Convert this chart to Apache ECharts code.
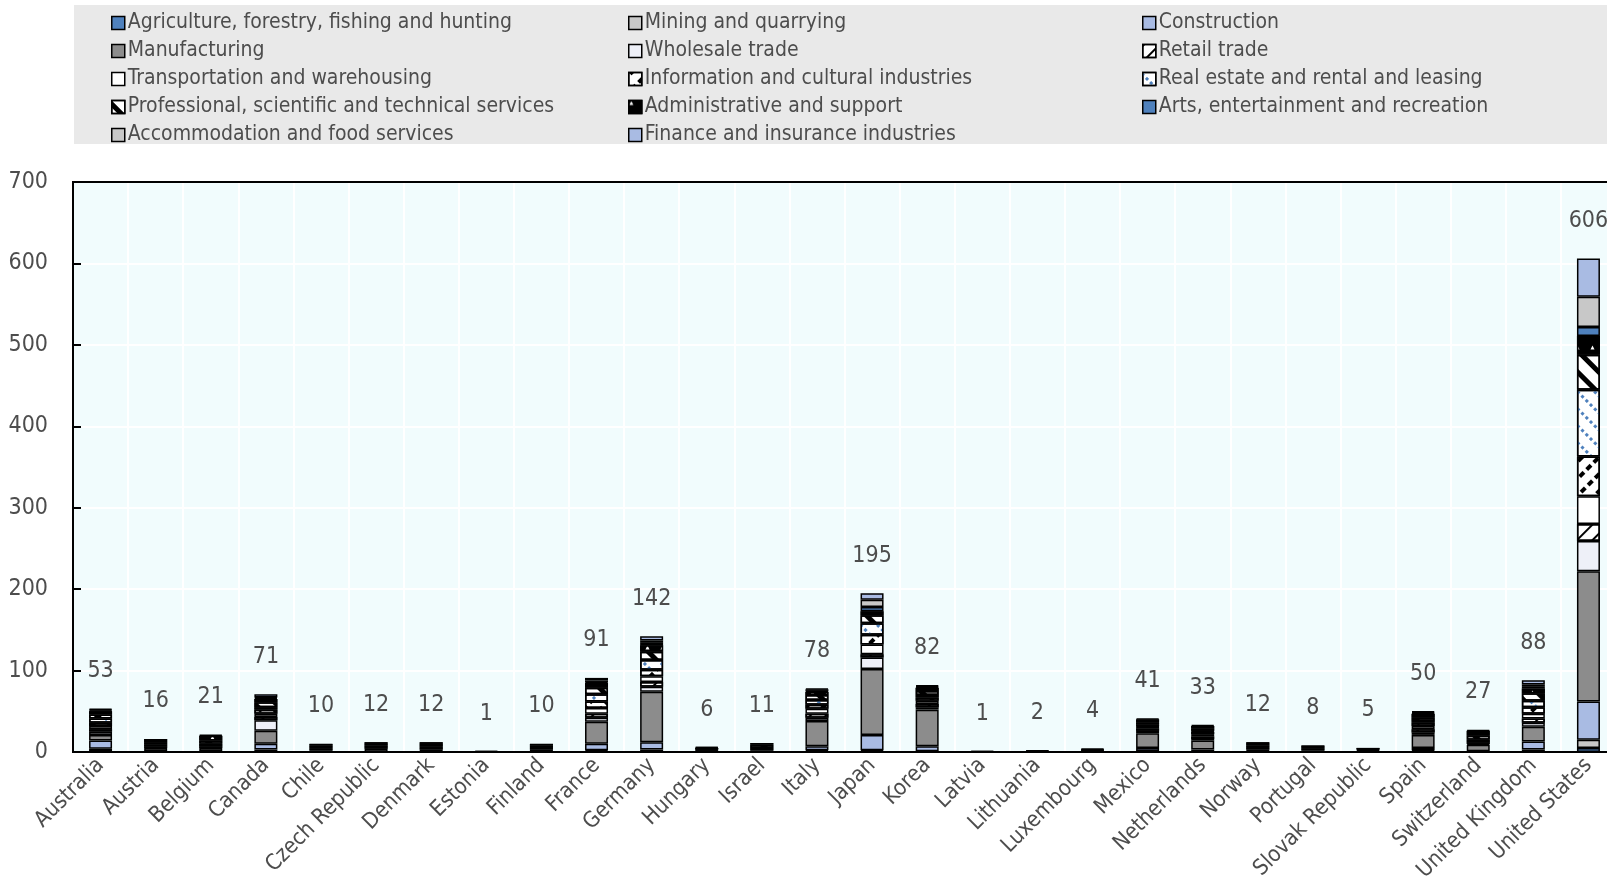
<!DOCTYPE html>
<html lang="en">
<head>
  <meta charset="UTF-8">
  <title>Firms by industry and country</title>
  <script src="https://cdn.jsdelivr.net/npm/echarts@6/dist/echarts.min.js"></script>
  <style>
    html, body { margin: 0; padding: 0; background: #fff; }
    #chart { width: 1607px; height: 893px; }
  </style>
</head>
<body>
  <div id="chart"></div>
  <script>
    var countries = ['Australia','Austria','Belgium','Canada','Chile','Czech Republic','Denmark','Estonia','Finland','France',
      'Germany','Hungary','Israel','Italy','Japan','Korea','Latvia','Lithuania','Luxembourg','Mexico',
      'Netherlands','Norway','Portugal','Slovak Republic','Spain','Switzerland','United Kingdom','United States'];

    var agriculture    = [1,0,0,1,0,0,0,0,0,1,1,0,0,1,1,0,0,0,0,0,0,0,0,0,1,0,1,5];
    var mining         = [3,0,0,2,0,0,0,0,0,1,2,0,0,1,1,1,0,0,0,1,1,0,0,0,1,0,2,10];
    var construction   = [10,1,1,7,0,0,0,0,0,8,9,0,0,5,19,6,0,0,0,4,2,0,0,0,3,1,10,47];
    var manufacturing  = [7,4,4,16,2,4,3,0,3,27,62,2,2,31,81,45,0,1,1,18,11,3,2,1,16,8,18,160];
    var wholesale      = [4,0,0,13,0,0,0,0,0,5,6,0,0,4,14,3,0,0,0,3,2,0,0,0,3,1,5,37];
    var retail         = [3,2,2,4,2,2,2,0,0,5,6,0,0,5,4,4,0,0,0,3,3,0,0,0,4,2,5,21];
    var transport      = [4,0,0,4,0,0,0,0,0,7,7,0,0,6,12,4,0,0,0,3,3,0,0,0,4,0,6,34];
    var information    = [4,2,3,5,2,2,2,0,2,8,8,1,3,5,12,4,0,0,1,2,3,2,2,1,4,3,8,49];
    var realEstate     = [5,0,0,3,0,0,0,0,0,9,12,0,0,6,14,3,0,0,0,2,1,0,0,0,2,0,8,82];
    var professional   = [5,3,4,6,2,2,3,0,3,8,10,2,4,6,10,5,0,0,1,2,3,3,2,1,4,5,9,43];
    var administrative = [4,4,6,4,2,2,2,1,2,6,8,1,2,4,5,4,1,1,1,2,3,4,2,2,5,6,6,23];
    var arts           = [1,0,0,1,0,0,0,0,0,1,3,0,0,1,5,1,0,0,0,1,1,0,0,0,1,0,2,11];
    var accommodation  = [1,0,1,1,0,0,0,0,0,2,3,0,0,2,9,1,0,0,0,0,0,0,0,0,1,1,3,37];
    var finance        = [1,0,0,4,0,0,0,0,0,3,5,0,0,1,8,1,0,0,0,0,0,0,0,0,1,0,5,47];

    var yTicks = [0,100,200,300,400,500,600,700];

    var FONT = '"DejaVu Sans Condensed", "Liberation Sans", sans-serif';
    var TXT = '#4d4d4d';

    // name, data, fill, pattern
    var industries = [
      ['Agriculture, forestry, fishing and hunting', agriculture, '#4f81bd', null],
      ['Mining and quarrying', mining, '#c8c8c8', null],
      ['Construction', construction, '#a9bbe3', null],
      ['Manufacturing', manufacturing, '#8c8c8c', null],
      ['Wholesale trade', wholesale, '#eef0f8', null],
      ['Retail trade', retail, '#ffffff',
        {symbol:'rect', symbolSize:1, dashArrayX:[1,0], dashArrayY:[2,9], rotation:-Math.PI/4, color:'#000'}],
      ['Transportation and warehousing', transport, '#ffffff', null],
      ['Information and cultural industries', information, '#ffffff',
        {symbol:'rect', symbolSize:1, dashArrayX:[6,4], dashArrayY:[4,8], rotation:-Math.PI/4, color:'#000'}],
      ['Real estate and rental and leasing', realEstate, '#ffffff',
        {symbol:'rect', symbolSize:1, dashArrayX:[3,3], dashArrayY:[3,9], rotation:Math.PI/4, color:'#4f81bd'}],
      ['Professional, scientific and technical services', professional, '#ffffff',
        {symbol:'rect', symbolSize:1, dashArrayX:[1,0], dashArrayY:[5,10], rotation:Math.PI/4, color:'#000'}],
      ['Administrative and support', administrative, '#000000',
        {symbol:'triangle', symbolSize:0.8, dashArrayX:[5,10], dashArrayY:[5,10], color:'#fff'}],
      ['Arts, entertainment and recreation', arts, '#4f81bd', null],
      ['Accommodation and food services', accommodation, '#c8c8c8', null],
      ['Finance and insurance industries', finance, '#a9bbe3', null]
    ];

    var totals = countries.map(function (c, i) {
      return industries.reduce(function (s, ind) { return s + ind[1][i]; }, 0);
    });

    var series = industries.map(function (ind) {
      var style = { color: ind[2], borderColor: '#000', borderWidth: 1.5 };
      if (ind[3]) style.decal = ind[3];
      return {
        name: ind[0], type: 'bar', stack: 'all', barWidth: 23,
        data: ind[1].map(function (v) { return v || null; }),
        itemStyle: style
      };
    });
    series.push({
      name: 'Total', type: 'bar', barWidth: 23, barGap: '-100%', data: totals,
      itemStyle: { color: 'rgba(0,0,0,0)' }, silent: true,
      label: { show: true, position: 'top', distance: 26, color: TXT, fontFamily: FONT, fontSize: 23 }
    });

    // legend laid out in three columns, row by row
    var cols = [106, 623, 1137];
    var legends = cols.map(function (x, c) {
      return {
        orient: 'vertical', left: x, top: 6, icon: 'rect', itemWidth: 13, itemHeight: 13, itemGap: 4,
        data: industries.filter(function (d, i) { return i % 3 === c; }).map(function (d) { return d[0]; }),
        textStyle: { color: TXT, fontFamily: FONT, fontSize: 21, lineHeight: 24, padding: [0, 0, 0, -2] },
        itemStyle: { borderColor: '#000', borderWidth: 1.5 },
        selectedMode: false
      };
    });

    var chart = echarts.init(document.getElementById('chart'));
    chart.setOption({
      animation: false,
      graphic: [{ type: 'rect', left: 74, top: 5, z: 0, shape: { width: 1533, height: 139 }, style: { fill: '#e9e9e9' } }],
      legend: legends,
      grid: { left: 73, top: 182, width: 1543, height: 570, outerBoundsMode: 'none', containLabel: false,
        show: true, backgroundColor: '#f1fcfd', borderColor: '#000', borderWidth: 2 },
      xAxis: [{
        type: 'category', data: countries,
        axisLine: { lineStyle: { color: '#000', width: 2 } },
        axisTick: { inside: true, length: 8, lineStyle: { color: '#000', width: 2 } },
        splitLine: { show: true, lineStyle: { color: '#fff', width: 2 } },
        axisLabel: { rotate: 45, interval: 0, margin: 10, color: TXT, fontFamily: FONT, fontSize: 22 }
      }, {
        // plain frame line along the top of the plot
        type: 'category', data: countries, position: 'top',
        axisLine: { show: true, lineStyle: { color: '#000', width: 2 } },
        axisTick: { show: false }, axisLabel: { show: false }, splitLine: { show: false }
      }],
      yAxis: {
        type: 'value', min: yTicks[0], max: yTicks[yTicks.length - 1], interval: 100,
        axisLine: { show: true, lineStyle: { color: '#000', width: 2 } },
        axisTick: { show: true, inside: true, length: 8, lineStyle: { color: '#000', width: 2 } },
        splitLine: { lineStyle: { color: '#fff', width: 2 } },
        axisLabel: { margin: 25, color: TXT, fontFamily: FONT, fontSize: 23 }
      },
      series: series
    });
  </script>
</body>
</html>
